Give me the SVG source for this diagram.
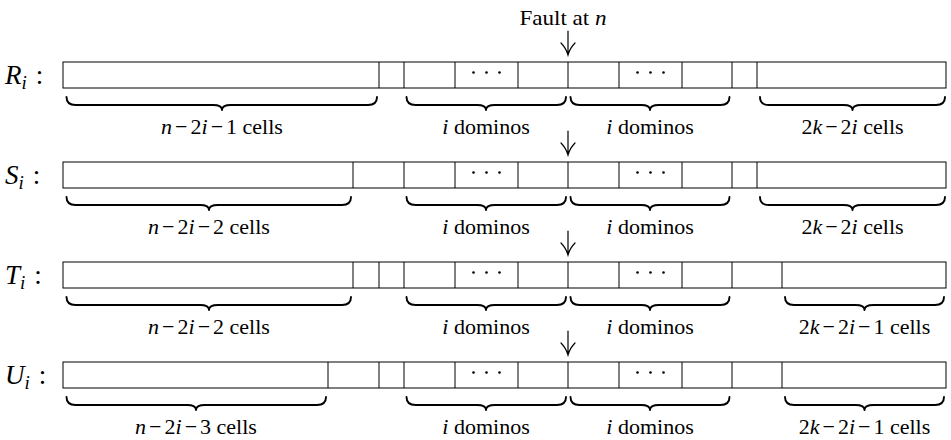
<svg xmlns="http://www.w3.org/2000/svg" width="951" height="440" viewBox="0 0 951 440">
<style>
  .box { fill: #fff; stroke: #000; stroke-width: 1; }
  .div { stroke: #000; stroke-width: 1; }
  .brace { fill: none; stroke: #000; stroke-width: 1.9; stroke-linecap: round; stroke-linejoin: round; }
  .arrow { fill: none; stroke: #000; stroke-width: 1.2; stroke-linecap: round; }
  .lbl { font-family: "Liberation Serif", "Times New Roman", serif; font-size: 22px; text-anchor: middle; fill: #000; }
  .row { font-family: "Liberation Serif", "Times New Roman", serif; font-size: 27px; fill: #000; }
  .it { font-style: italic; }
  .dot { fill: #000; }
</style>
<rect width="951" height="440" fill="#fff"/>

<g id="fault-label">
  <text class="lbl" transform="translate(563 25) scale(1.05 1)">Fault at <tspan class="it">n</tspan></text>
</g>

<g id="row-R">
  <text class="row" x="5" y="84"><tspan class="it">R</tspan><tspan class="it" font-size="19" dy="5">i</tspan><tspan dy="-5" dx="9">:</tspan></text>
  <rect class="box" x="63" y="62" width="883" height="26"/>
  <path class="div" d="M379 62V88M404 62V88M455 62V88M518 62V88M568 62V88M619 62V88M682 62V88M732 62V88M757 62V88"/>
  <circle class="dot" cx="473.5" cy="72.5" r="1.3"/><circle class="dot" cx="486.5" cy="72.5" r="1.3"/><circle class="dot" cx="499.5" cy="72.5" r="1.3"/>
  <circle class="dot" cx="637.5" cy="72.5" r="1.3"/><circle class="dot" cx="650.5" cy="72.5" r="1.3"/><circle class="dot" cx="663.5" cy="72.5" r="1.3"/>
  <path class="brace" d="M66.5 97Q66.5 105 75.5 105L213 105Q222 105 222 110Q222 105 231 105L368 105Q377 105 377 97"/>
  <path class="brace" d="M406.5 97Q406.5 105 415.5 105L477 105Q486 105 486 110Q486 105 495 105L557 105Q566 105 566 97"/>
  <path class="brace" d="M570.5 97Q570.5 105 579.5 105L641 105Q650 105 650 110Q650 105 659 105L720.5 105Q729.5 105 729.5 97"/>
  <path class="brace" d="M760 97Q760 105 769 105L843.5 105Q852.5 105 852.5 110Q852.5 105 861.5 105L936 105Q945 105 945 97"/>
  <text class="lbl" x="222" y="134"><tspan class="it">n</tspan><tspan dx="3">−</tspan><tspan dx="3">2</tspan><tspan class="it">i</tspan><tspan dx="3">−</tspan><tspan dx="3">1 cells</tspan></text>
  <text class="lbl" x="486" y="134"><tspan class="it">i</tspan> dominos</text>
  <text class="lbl" x="650" y="134"><tspan class="it">i</tspan> dominos</text>
  <text class="lbl" x="852.5" y="134">2<tspan class="it">k</tspan><tspan dx="3">−</tspan><tspan dx="3">2</tspan><tspan class="it">i</tspan> cells</text>
</g>

<g id="row-S">
  <text class="row" x="5" y="184"><tspan class="it">S</tspan><tspan class="it" font-size="19" dy="5">i</tspan><tspan dy="-5" dx="9">:</tspan></text>
  <rect class="box" x="63" y="162" width="883" height="26"/>
  <path class="div" d="M353 162V188M404 162V188M455 162V188M518 162V188M568 162V188M619 162V188M682 162V188M732 162V188M757 162V188"/>
  <circle class="dot" cx="473.5" cy="172.5" r="1.3"/><circle class="dot" cx="486.5" cy="172.5" r="1.3"/><circle class="dot" cx="499.5" cy="172.5" r="1.3"/>
  <circle class="dot" cx="637.5" cy="172.5" r="1.3"/><circle class="dot" cx="650.5" cy="172.5" r="1.3"/><circle class="dot" cx="663.5" cy="172.5" r="1.3"/>
  <path class="brace" d="M66.5 197Q66.5 205 75.5 205L200 205Q209 205 209 210Q209 205 218 205L342 205Q351 205 351 197"/>
  <path class="brace" d="M406.5 197Q406.5 205 415.5 205L477 205Q486 205 486 210Q486 205 495 205L557 205Q566 205 566 197"/>
  <path class="brace" d="M570.5 197Q570.5 205 579.5 205L641 205Q650 205 650 210Q650 205 659 205L720.5 205Q729.5 205 729.5 197"/>
  <path class="brace" d="M760 197Q760 205 769 205L843.5 205Q852.5 205 852.5 210Q852.5 205 861.5 205L936 205Q945 205 945 197"/>
  <text class="lbl" x="209" y="234"><tspan class="it">n</tspan><tspan dx="3">−</tspan><tspan dx="3">2</tspan><tspan class="it">i</tspan><tspan dx="3">−</tspan><tspan dx="3">2 cells</tspan></text>
  <text class="lbl" x="486" y="234"><tspan class="it">i</tspan> dominos</text>
  <text class="lbl" x="650" y="234"><tspan class="it">i</tspan> dominos</text>
  <text class="lbl" x="852.5" y="234">2<tspan class="it">k</tspan><tspan dx="3">−</tspan><tspan dx="3">2</tspan><tspan class="it">i</tspan> cells</text>
</g>

<g id="row-T">
  <text class="row" x="5" y="284"><tspan class="it">T</tspan><tspan class="it" font-size="19" dy="5">i</tspan><tspan dy="-5" dx="9">:</tspan></text>
  <rect class="box" x="63" y="262" width="883" height="26"/>
  <path class="div" d="M353 262V288M379 262V288M404 262V288M455 262V288M518 262V288M568 262V288M619 262V288M682 262V288M732 262V288M782 262V288"/>
  <circle class="dot" cx="473.5" cy="272.5" r="1.3"/><circle class="dot" cx="486.5" cy="272.5" r="1.3"/><circle class="dot" cx="499.5" cy="272.5" r="1.3"/>
  <circle class="dot" cx="637.5" cy="272.5" r="1.3"/><circle class="dot" cx="650.5" cy="272.5" r="1.3"/><circle class="dot" cx="663.5" cy="272.5" r="1.3"/>
  <path class="brace" d="M66.5 297Q66.5 305 75.5 305L200 305Q209 305 209 310Q209 305 218 305L342 305Q351 305 351 297"/>
  <path class="brace" d="M406.5 297Q406.5 305 415.5 305L477 305Q486 305 486 310Q486 305 495 305L557 305Q566 305 566 297"/>
  <path class="brace" d="M570.5 297Q570.5 305 579.5 305L641 305Q650 305 650 310Q650 305 659 305L720.5 305Q729.5 305 729.5 297"/>
  <path class="brace" d="M785 297Q785 305 794 305L855.5 305Q864.5 305 864.5 310Q864.5 305 873.5 305L935 305Q944 305 944 297"/>
  <text class="lbl" x="209" y="334"><tspan class="it">n</tspan><tspan dx="3">−</tspan><tspan dx="3">2</tspan><tspan class="it">i</tspan><tspan dx="3">−</tspan><tspan dx="3">2 cells</tspan></text>
  <text class="lbl" x="486" y="334"><tspan class="it">i</tspan> dominos</text>
  <text class="lbl" x="650" y="334"><tspan class="it">i</tspan> dominos</text>
  <text class="lbl" x="864.5" y="334">2<tspan class="it">k</tspan><tspan dx="3">−</tspan><tspan dx="3">2</tspan><tspan class="it">i</tspan><tspan dx="3">−</tspan><tspan dx="3">1 cells</tspan></text>
</g>

<g id="row-U">
  <text class="row" x="5" y="384"><tspan class="it">U</tspan><tspan class="it" font-size="19" dy="5">i</tspan><tspan dy="-5" dx="9">:</tspan></text>
  <rect class="box" x="63" y="362" width="883" height="26"/>
  <path class="div" d="M328 362V388M379 362V388M404 362V388M455 362V388M518 362V388M568 362V388M619 362V388M682 362V388M732 362V388M782 362V388"/>
  <circle class="dot" cx="473.5" cy="372.5" r="1.3"/><circle class="dot" cx="486.5" cy="372.5" r="1.3"/><circle class="dot" cx="499.5" cy="372.5" r="1.3"/>
  <circle class="dot" cx="637.5" cy="372.5" r="1.3"/><circle class="dot" cx="650.5" cy="372.5" r="1.3"/><circle class="dot" cx="663.5" cy="372.5" r="1.3"/>
  <path class="brace" d="M66.5 397Q66.5 405 75.5 405L187 405Q196 405 196 410Q196 405 205 405L317 405Q326 405 326 397"/>
  <path class="brace" d="M406.5 397Q406.5 405 415.5 405L477 405Q486 405 486 410Q486 405 495 405L557 405Q566 405 566 397"/>
  <path class="brace" d="M570.5 397Q570.5 405 579.5 405L641 405Q650 405 650 410Q650 405 659 405L720.5 405Q729.5 405 729.5 397"/>
  <path class="brace" d="M785 397Q785 405 794 405L855.5 405Q864.5 405 864.5 410Q864.5 405 873.5 405L935 405Q944 405 944 397"/>
  <text class="lbl" x="196" y="434"><tspan class="it">n</tspan><tspan dx="3">−</tspan><tspan dx="3">2</tspan><tspan class="it">i</tspan><tspan dx="3">−</tspan><tspan dx="3">3 cells</tspan></text>
  <text class="lbl" x="486" y="434"><tspan class="it">i</tspan> dominos</text>
  <text class="lbl" x="650" y="434"><tspan class="it">i</tspan> dominos</text>
  <text class="lbl" x="864.5" y="434">2<tspan class="it">k</tspan><tspan dx="3">−</tspan><tspan dx="3">2</tspan><tspan class="it">i</tspan><tspan dx="3">−</tspan><tspan dx="3">1 cells</tspan></text>
</g>

<g id="connectors">
  <path class="arrow" d="M568 31V55M561 43Q566 48 568 55Q570 48 575 43"/>
  <path class="arrow" d="M568 131V155M561 143Q566 148 568 155Q570 148 575 143"/>
  <path class="arrow" d="M568 231V255M561 243Q566 248 568 255Q570 248 575 243"/>
  <path class="arrow" d="M568 331V355M561 343Q566 348 568 355Q570 348 575 343"/>
</g>
</svg>
